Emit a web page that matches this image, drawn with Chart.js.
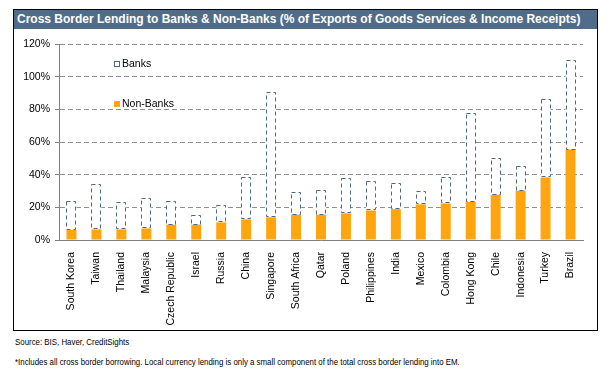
<!DOCTYPE html>
<html>
<head>
<meta charset="utf-8">
<script src="https://cdn.jsdelivr.net/npm/chart.js@4.4.0/dist/chart.umd.min.js"></script>
<style>
  body { margin: 0; width: 611px; height: 375px; background: #fff; font-family: Arial, "Liberation Sans", sans-serif; position: relative; overflow: hidden; }
  #frame { position: absolute; left: 13px; top: 9px; width: 585px; height: 322px; border: 1px solid #000; box-sizing: border-box; }
  #title { position: absolute; left: 14px; top: 10px; width: 583px; height: 19px; background: #4f6d8a; color: #fff; font-weight: bold; font-size: 12px; line-height: 19px; padding-left: 3px; box-sizing: border-box; white-space: nowrap; }
  #wrap { position: absolute; left: 14px; top: 30px; width: 582px; height: 299px; }
  .leg { position: absolute; font-size: 10.5px; color: #000; white-space: nowrap; }
  .leg i { display: inline-block; width: 6px; height: 6px; margin-right: 2px; box-sizing: border-box; vertical-align: 0px; }
  .note { position: absolute; left: 15px; font-size: 9px; color: #000; white-space: nowrap; transform: scaleX(0.875); transform-origin: left center; }
</style>
</head>
<body>
<div id="frame"></div>
<div id="title">Cross Border Lending to Banks &amp; Non-Banks (% of Exports of Goods Services &amp; Income Receipts)</div>
<div id="wrap"><canvas id="chart"></canvas></div>
<div class="leg" style="left:114px; top:57px;"><i style="border:1px dashed #4c6a86;"></i>Banks</div>
<div class="leg" style="left:114px; top:97px;"><i style="background:#ffa510;"></i>Non-Banks</div>
<div class="note" style="top:337px;">Source: BIS, Haver, CreditSights</div>
<div class="note" style="top:357px;">*Includes all cross border borrowing. Local currency lending is only a small component of the total cross border lending into EM.</div>
<script>
// values in % of exports
const countries = ['South Korea', 'Taiwan', 'Thailand', 'Malaysia', 'Czech Republic', 'Israel', 'Russia', 'China',
    'Singapore', 'South Africa', 'Qatar', 'Poland', 'Philippines', 'India', 'Mexico', 'Colombia',
    'Hong Kong', 'Chile', 'Indonesia', 'Turkey', 'Brazil'];
const nonBanks = [6.1, 6.5, 6.5, 7.1, 9.4, 9.4, 10.8, 12.6, 13.9, 15.5, 15.5, 16.3, 18.1, 18.9, 21.8, 22.4, 23.4, 27.7, 30.2, 38.3, 55.4];
const banks = [17.5, 27.5, 16.5, 18.9, 14.2, 5.7, 10.6, 25.9, 77.0, 13.6, 14.9, 21.4, 18.0, 16.3, 8.0, 16.1, 54.2, 22.4, 15.4, 48.3, 55.0];
const yTicks = [0, 20, 40, 60, 80, 100, 120];

// the banks bars are white boxes with a dashed outline
const dashedBars = {
    id: 'dashedBars',
    afterDatasetsDraw(chart) {
        const ctx = chart.ctx;
        const meta = chart.getDatasetMeta(1);
        ctx.save();
        ctx.strokeStyle = '#4c6a86';
        ctx.lineWidth = 1;
        ctx.setLineDash([4, 3]);
        meta.data.forEach(bar => {
            const p = bar.getProps(['x', 'y', 'base', 'width'], true);
            const l = Math.round(p.x - p.width / 2) + 0.5;
            const r = Math.round(p.x + p.width / 2) - 0.5;
            const t = Math.round(p.y) + 0.5;
            const b = Math.round(p.base) - 0.5;
            ctx.strokeRect(l, t, r - l, b - t);
        });
        ctx.restore();
    }
};

const font = { family: 'Arial, "Liberation Sans", sans-serif', size: 10.5 };

new Chart(document.getElementById('chart'), {
    type: 'bar',
    data: {
        labels: countries,
        datasets: [
            { label: 'Non-Banks', data: nonBanks, backgroundColor: '#ffa510', borderWidth: 0 },
            { label: 'Banks', data: banks, backgroundColor: '#ffffff', borderWidth: 0 }
        ]
    },
    options: {
        responsive: true,
        maintainAspectRatio: false,
        animation: false,
        layout: { padding: { left: 0, right: 13, top: 14, bottom: 0 } },
        datasets: { bar: { barPercentage: 0.4, categoryPercentage: 1 } },
        scales: {
            x: {
                stacked: true,
                grid: { display: false },
                border: { display: true, color: '#808080', width: 1 },
                ticks: { color: '#000', font: font, minRotation: 90, maxRotation: 90, autoSkip: false, padding: 4 },
                afterFit: s => { s.height = 89; }
            },
            y: {
                stacked: true,
                min: 0,
                max: 120,
                afterBuildTicks: s => { s.ticks = yTicks.map(v => ({ value: v })); },
                grid: {
                    color: c => c.tick && c.tick.value === 0 ? 'rgba(0,0,0,0)' : '#8c8ca8',
                    tickColor: '#808080',
                    tickLength: 4
                },
                border: { display: true, color: '#808080', width: 1, dash: [5, 3] },
                ticks: { color: '#000', font: font, padding: 5, callback: v => v + '%' },
                afterFit: s => { s.width = 45; }
            }
        },
        plugins: {
            legend: { display: false },
            tooltip: { enabled: false }
        }
    },
    plugins: [dashedBars]
});
</script>
</body>
</html>
